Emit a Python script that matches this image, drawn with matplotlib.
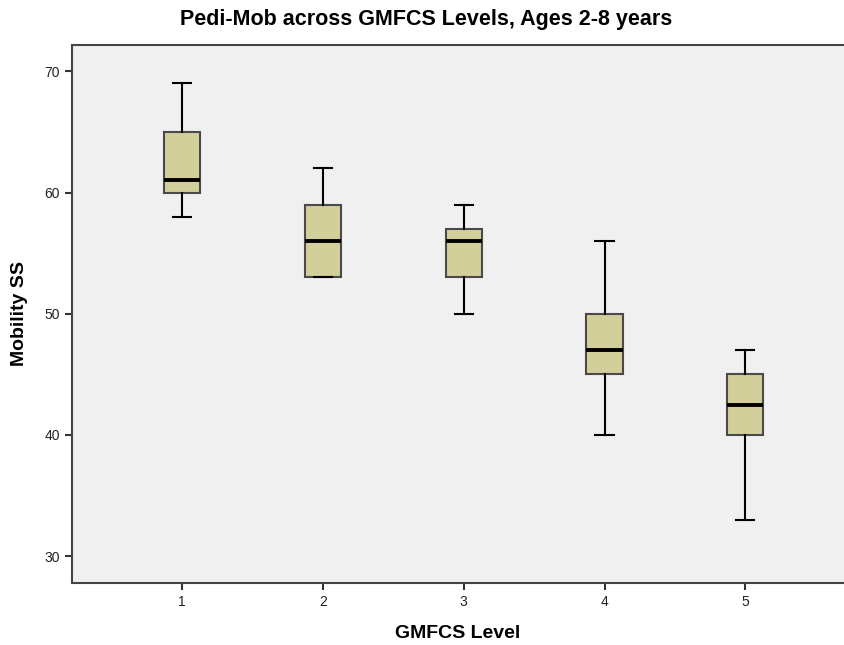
import matplotlib.pyplot as plt

levels = [1, 2, 3, 4, 5]
whisker_low = [58, 53, 50, 40, 33]
q1 = [60, 53, 53, 45, 40]
median = [61, 56, 56, 47, 42.5]
q3 = [65, 59, 57, 50, 45]
whisker_high = [69, 62, 59, 56, 47]

plt.rcParams['font.family'] = ['Liberation Sans', 'DejaVu Sans']

fig = plt.figure(figsize=(8.44, 6.45), dpi=100)
ax = fig.add_axes([72 / 844, 1 - 582.7 / 645, 1 - 72 / 844, (582.7 - 44.7) / 645])
ax.set_facecolor('#f0f0f0')

stats = []
for lv, lo, a, m, b, hi in zip(levels, whisker_low, q1, median, q3, whisker_high):
    stats.append({'label': str(lv), 'whislo': lo, 'q1': a, 'med': m, 'q3': b, 'whishi': hi, 'fliers': []})

ax.bxp(stats, positions=levels, widths=0.256, patch_artist=True, showfliers=False,
       boxprops=dict(facecolor='#d3cf9b', edgecolor='#4a4a4a', linewidth=1.5),
       medianprops=dict(color='black', linewidth=2.8),
       whiskerprops=dict(color='black', linewidth=1.5),
       capprops=dict(color='black', linewidth=1.5),
       capwidths=0.128)

ax.set_xlim(0.22, 5.70)
ax.set_ylim(27.8, 72.2)
ax.set_yticks([30, 40, 50, 60, 70])
ax.set_xticks(levels)
ax.set_xticklabels([str(lv) for lv in levels])

for side in ['left', 'bottom', 'top']:
    ax.spines[side].set_color('#444444')
    ax.spines[side].set_linewidth(1.5)
ax.spines['right'].set_visible(False)
ax.tick_params(axis='both', labelsize=10, color='#333333', width=1.5, length=5, labelcolor='#222222')

fig.text(426 / 844, 1 - 20 / 645, 'Pedi-Mob across GMFCS Levels, Ages 2-8 years',
         fontsize=15.5, fontweight='bold', ha='center', va='center')
ax.set_xlabel('GMFCS Level', fontsize=14, fontweight='bold', va='center')
ax.xaxis.set_label_coords(0.5, -0.0935)
ax.set_ylabel('Mobility SS', fontsize=14, fontweight='bold', va='center')
ax.yaxis.set_label_coords(-0.0674, 0.5)

fig.savefig('out.png', dpi=100)
